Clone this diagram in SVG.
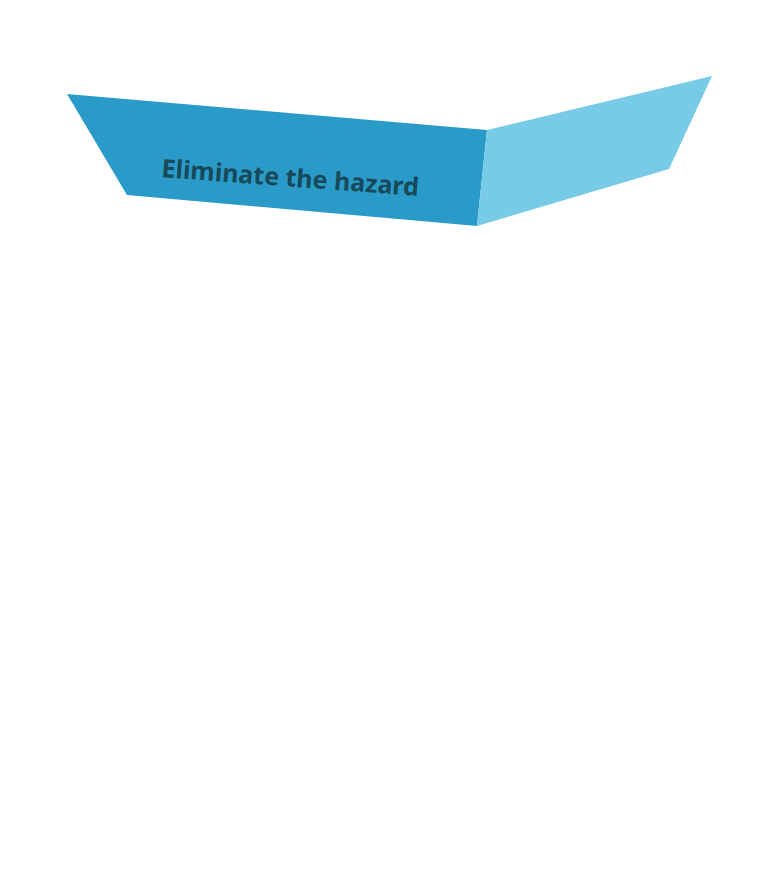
<svg xmlns="http://www.w3.org/2000/svg" width="780" height="884" viewBox="0 0 780 884">
<style>
.face{stroke:none}
.dark{fill:#2a9bc8}
.light{fill:#77cbe6}
.lbl{font-family:"Noto Sans","Open Sans","Liberation Sans",sans-serif;font-weight:bold;font-size:25px;fill:#17495a}
</style>
<rect width="780" height="884" fill="#ffffff"/>
<g id="node-eliminate">
<polygon class="face dark" points="67,94 487,130 477,226 127,195"/>
<polygon class="face light" points="487,130 712,76 669,169 477,226"/>
<text class="lbl" x="161" y="177" transform="rotate(4.2 161 177)" textLength="258" lengthAdjust="spacingAndGlyphs">Eliminate the hazard</text>
</g>
<g id="connectors"></g>
</svg>
